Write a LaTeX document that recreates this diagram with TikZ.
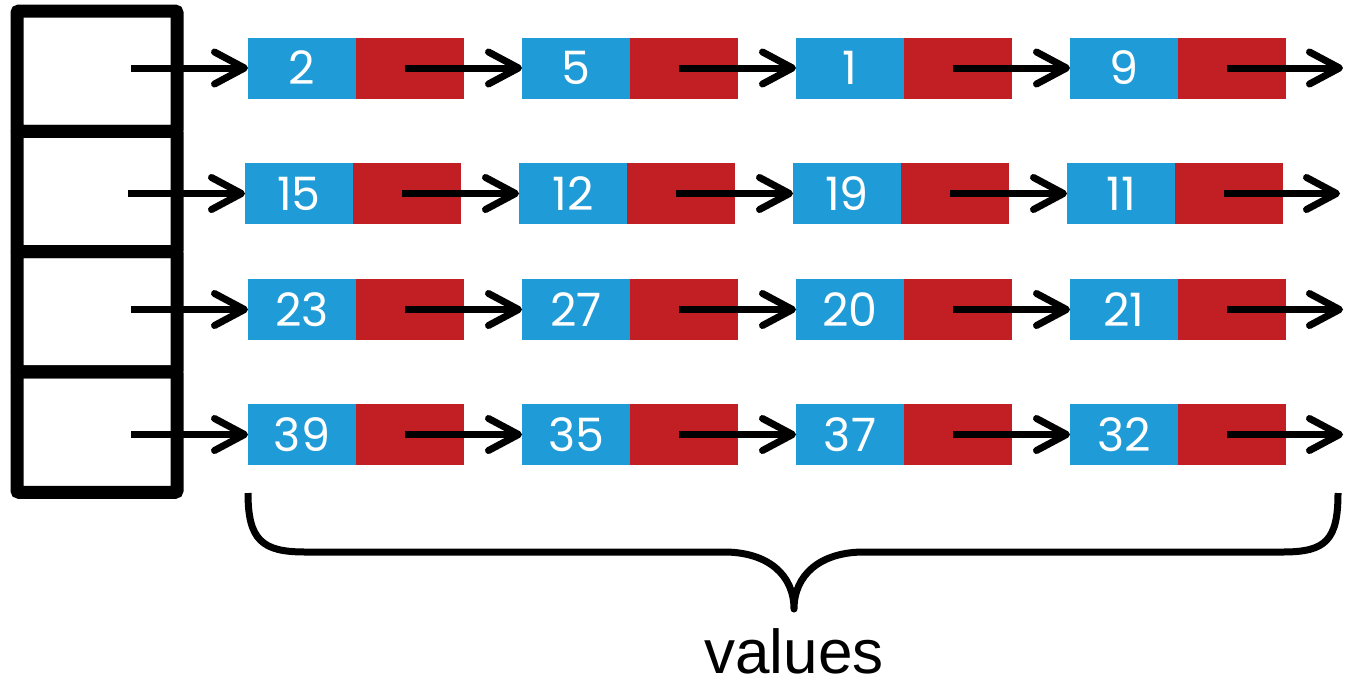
\documentclass[tikz,border=0pt]{standalone}
\usepackage{fontspec}
\setmainfont{Liberation Sans}
\newfontfamily\numfont{Poppins}
\usetikzlibrary{arrows.meta, positioning}
\definecolor{cellblue}{RGB}{31,155,215}
\definecolor{cellred}{RGB}{193,31,36}

\begin{document}
\begin{tikzpicture}[x=1pt, y=-1pt]
	\tikzset{
		bucket/.style={
			draw,
			line width=13pt,
			rounded corners=2pt,
			minimum width=160pt,
			minimum height=120.3pt,
			inner sep=0pt,
			outer sep=0pt
		},
		val/.style={
			fill=cellblue,
			text=white,
			font=\numfont\fontsize{46}{50}\selectfont,
			minimum width=108pt,
			minimum height=61pt,
			inner sep=0pt,
			outer sep=0pt
		},
		nxt/.style={
			fill=cellred,
			minimum width=108pt,
			minimum height=61pt,
			inner sep=0pt,
			outer sep=0pt
		},
		ptr/.style={
			-{Straight Barb[length=30pt, width=32pt, round]},
			line width=7pt
		},
		brace/.style={
			line width=7pt,
			line join=round,
			preaction={draw=black!25, opacity=.6, transform canvas={shift={(1.5,2.5)}}}
		},
	}
	\useasboundingbox (0,0) rectangle (1357,686);

	% buckets of the table
	\node[bucket] (b1) at (97,71.2) {};
	\node[bucket, below=0pt of b1] (b2) {};
	\node[bucket, below=0pt of b2] (b3) {};
	\node[bucket, below=0pt of b3] (b4) {};

	% one chain per bucket
	\foreach \r/\x/\y/\vals in {1/248/68/{2,5,1,9}, 2/245/193.5/{15,12,19,11},
			3/248/309.5/{23,27,20,21}, 4/248/434.5/{39,35,37,32}} {
		\foreach \v [count=\c] in \vals {
			\node[val, anchor=west] (v-\r-\c) at ({\x+274*(\c-1)},\y) {\v};
			\node[nxt, right=0pt of v-\r-\c] (n-\r-\c) {};
		}
	}

	\foreach \r in {1,...,4} {
		\coordinate[left=117pt of v-\r-1] (p\r);
		\coordinate[right=57pt of n-\r-4] (e\r);
		\draw[ptr] (p\r) -- (v-\r-1);
		\foreach \c/\d in {1/2, 2/3, 3/4}
			\draw[ptr] ([xshift=-5pt]n-\r-\c.center) -- (v-\r-\d);
		\draw[ptr] ([xshift=-5pt]n-\r-4.center) -- (e\r);
	}

	% brace under the chains
	\coordinate (tip) at (794,609);
	\draw[brace] (248,493) .. controls (248,540) and (262,552) .. (305,552)
		-- (724,552) .. controls (768,552) and (794,575) .. (tip)
		.. controls (794,575) and (820,552) .. (864,552)
		-- (1283,552) .. controls (1326,552) and (1338,540) .. (1338,493);
	\node[below=19pt of tip, inner sep=0pt, font=\fontsize{62}{70}\selectfont] (label) {values};
\end{tikzpicture}
\end{document}
